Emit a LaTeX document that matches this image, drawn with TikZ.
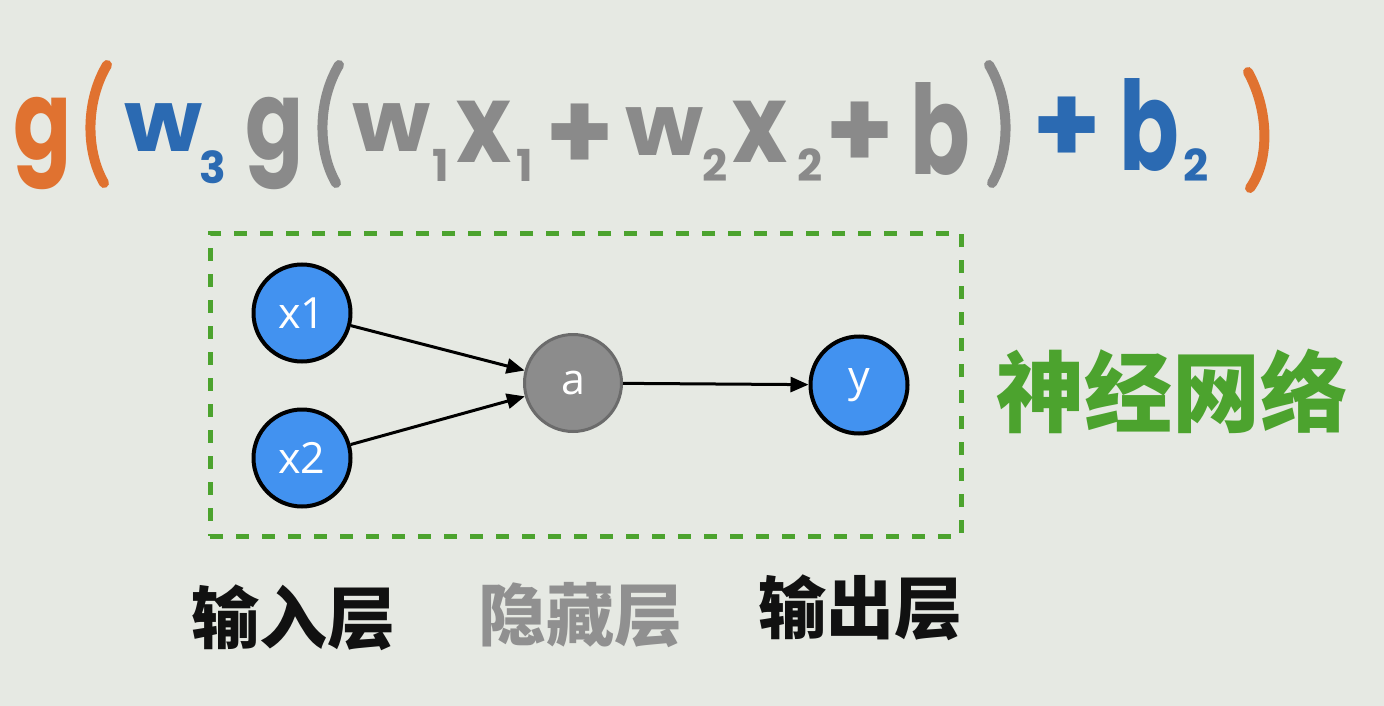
\documentclass[tikz,border=0pt]{standalone}
\usepackage{fontspec}
\usetikzlibrary{arrows.meta}
\newfontfamily\popfont{Poppins}
\newfontfamily\osfont{Open Sans}
\newfontfamily\cjkfont{Noto Sans CJK SC}
\definecolor{bgc}{HTML}{E6E9E3}
\definecolor{orng}{HTML}{E07230}
\definecolor{blu}{HTML}{2B6AB2}
\definecolor{gry}{HTML}{8A8A8A}
\definecolor{grn}{HTML}{4CA32E}
\definecolor{nodeblue}{HTML}{4292F0}
\definecolor{nodegray}{HTML}{8C8C8C}
\definecolor{nodegrayb}{HTML}{6B6B6B}
\definecolor{hidtxt}{HTML}{909090}
\definecolor{darktxt}{HTML}{111111}
\begin{document}
\begin{tikzpicture}[x=1pt,y=-1pt,
 glyph/.style={inner sep=0pt, anchor=base, font=\popfont\bfseries\fontsize{110}{110}\selectfont},
 plusglyph/.style={glyph, anchor=center},
 subs/.style={inner sep=0pt, anchor=base, font=\popfont\bfseries\fontsize{44}{44}\selectfont},
 paren/.style={line width=10pt, line cap=round},
 neuron/.style={circle, minimum size=97pt, line width=4pt, draw=black, fill=nodeblue, text=white, font=\osfont\fontsize{43}{43}\selectfont, inner sep=0pt},
 hidden/.style={neuron, draw=nodegrayb, line width=3pt, fill=nodegray},
 conn/.style={-{Triangle[length=18pt,width=15pt]}, line width=3pt},
 layer/.style={font=\cjkfont\bfseries\fontsize{68}{68}\selectfont, inner sep=0pt, text=darktxt},
]
\useasboundingbox (0,0) rectangle (1384,706);
\fill[bgc] (0,0) rectangle (1384,706);

% formula
\node[glyph, text=orng] (g1) at (43,160) {\scalebox{0.78}[1]{g}};
\draw[paren, orng] (107,65) .. controls (86,100) and (85,150) .. (104,183);
\node[glyph, text=blu] (w3) at (164,152) {\scalebox{0.82}[0.78]{w}};
\node[subs, text=blu] (s3) at (213,183) {3};
\node[glyph, text=gry] (g2) at (275,160) {\scalebox{0.78}[1]{g}};
\draw[paren, gry] (339,65) .. controls (318,100) and (317,150) .. (336,183);
\node[glyph, text=gry] (w1) at (392,152) {\scalebox{0.82}[0.78]{w}};
\node[subs, text=gry] (s1a) at (441,182) {1};
\node[glyph, text=gry] (xa) at (484,163) {\scalebox{0.85}[1]{x}};
\node[subs, text=gry] (s1b) at (525,182) {1};
\node[plusglyph, text=gry] (p1) at (580,137) {+};
\node[glyph, text=gry] (w2) at (665,155) {\scalebox{0.82}[0.78]{w}};
\node[subs, text=gry] (s2a) at (715,182) {2};
\node[glyph, text=gry] (xb) at (760,163) {\scalebox{0.85}[1]{x}};
\node[subs, text=gry] (s2b) at (810,182) {2};
\node[plusglyph, text=gry] (p2) at (860,135) {+};
\node[glyph, text=gry] (b1) at (940,175) {\scalebox{0.8}[1.13]{b}};
\draw[paren, gry] (989,65) .. controls (1010,100) and (1011,150) .. (992,183);
\node[plusglyph, text=blu] (p3) at (1067,130) {+};
\node[glyph, text=blu] (b2) at (1149,170) {\scalebox{0.8}[1.13]{b}};
\node[subs, text=blu] (s2c) at (1196,182) {2};
\draw[paren, orng] (1248,72) .. controls (1269,110) and (1270,160) .. (1250,188);

% network
\node[draw=grn, line width=5pt, dash pattern=on 13pt off 13pt, minimum width=751pt, minimum height=303pt, inner sep=0pt] (net) at (585.5,384.5) {};
\node[neuron] (x1) at (302,313) {x1};
\node[neuron] (x2) at (302,458) {x2};
\node[hidden] (a) at (573,383) {a};
\node[neuron] (y) at (859,385) {y};
\draw[conn] (x1) -- (a);
\draw[conn] (x2) -- (a);
\draw[conn] (a) -- (y);

\node[text=grn, font=\cjkfont\bfseries\fontsize{88}{88}\selectfont, inner sep=0pt] (nn) at (1172,391) {神经网络};
\node[layer] (lin) at (293,618) {输入层};
\node[layer, text=hidtxt] (lhid) at (580,615) {隐藏层};
\node[layer] (lout) at (860,608) {输出层};
\end{tikzpicture}
\end{document}
